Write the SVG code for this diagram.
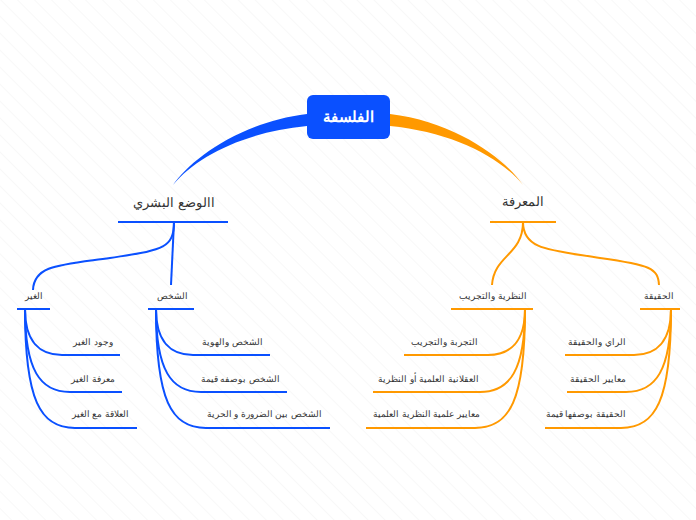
<svg xmlns="http://www.w3.org/2000/svg" width="696" height="520" viewBox="0 0 696 520">
<defs>
<pattern id="hatch" width="12" height="12" patternUnits="userSpaceOnUse" patternTransform="rotate(-45)">
<line x1="0" y1="0" x2="0" y2="12" stroke="#f1f1f1" stroke-width="1"/>
</pattern>
</defs>
<style>
text{font-family:"Liberation Sans","Noto Sans",sans-serif;fill:#333}
.b{stroke:#0a50ff;fill:none;stroke-width:2}
.o{stroke:#ff9900;fill:none;stroke-width:2}
.l1{font-size:13px}
.l2{font-size:9px}
.l3{font-size:9px}
</style>
<rect width="696" height="520" fill="#fff"/>
<rect width="696" height="520" fill="url(#hatch)"/>
<g id="connectors">
<path d="M307 114 C240 122 190 160 173 185 C197 156 245 132 307 126 Z" fill="#0a50ff"/>
<path d="M390 114 C457 122 506 160 523 185 C499 156 451 132 390 126 Z" fill="#ff9900"/>
<path class="b" d="M174 222 C174 250 160 250 110 258 C60 265 34 265 33 290"/>
<path class="b" d="M174 222 L171 285"/>
<path class="o" d="M523 222 C523 255 494 255 492 285"/>
<path class="o" d="M523 222 C523 250 550 250 600 258 C650 265 658 268 659 285"/>
<path class="b" d="M25 309 C25 342 40 355 62 355 L120 355"/>
<path class="b" d="M25 309 C25 370 40 392 70 392 L122 392"/>
<path class="b" d="M25 309 C25 400 40 428 75 428 L137 428"/>
<path class="b" d="M156 309 C156 342 171 355 193 355 L270 355"/>
<path class="b" d="M156 309 C156 370 171 392 201 392 L287 392"/>
<path class="b" d="M156 309 C156 400 171 428 206 428 L330 428"/>
<path class="o" d="M525 309 C525 342 510 355 488 355 L404 355"/>
<path class="o" d="M525 309 C525 370 510 392 480 392 L373 392"/>
<path class="o" d="M525 309 C525 400 510 428 475 428 L366 428"/>
<path class="o" d="M671 309 C671 342 656 355 634 355 L565 355"/>
<path class="o" d="M671 309 C671 370 656 392 626 392 L567 392"/>
<path class="o" d="M671 309 C671 400 656 428 621 428 L545 428"/>
</g>
<g id="root">
<rect x="307" y="95" width="83" height="44" rx="6" fill="#0a50ff"/>
<text x="348.5" y="122" text-anchor="middle" font-size="15" font-weight="bold" style="fill:#fff">الفلسفة</text>
</g>
<g id="n-human"><text class="l1" x="174" y="207" text-anchor="middle">االوضع البشري</text><line class="b" x1="118" y1="222" x2="228" y2="222"/></g>
<g id="n-knowledge"><text class="l1" x="523" y="206" text-anchor="middle">المعرفة</text><line class="o" x1="490" y1="222" x2="556" y2="222"/></g>
<g id="n-other"><text class="l2" x="34" y="299" text-anchor="middle">الغير</text><line class="b" x1="17" y1="309" x2="50" y2="309"/></g>
<g id="n-person"><text class="l2" x="172" y="299" text-anchor="middle">الشخص</text><line class="b" x1="148" y1="309" x2="194" y2="309"/></g>
<g id="n-theory"><text class="l2" x="493" y="299" text-anchor="middle">النظرية والتجريب</text><line class="o" x1="451" y1="309" x2="533" y2="309"/></g>
<g id="n-truth"><text class="l2" x="659" y="299" text-anchor="middle">الحقيقة</text><line class="o" x1="640" y1="309" x2="680" y2="309"/></g>
<g id="leaves">
<g id="l1"><text class="l3" x="113" y="345" text-anchor="end">وجود الغير</text></g>
<g id="l2"><text class="l3" x="115" y="382" text-anchor="end">معرفة الغير</text></g>
<g id="l3"><text class="l3" x="129" y="417" text-anchor="end">العلاقة مع الغير</text></g>
<g id="l4"><text class="l3" x="263" y="345" text-anchor="end">الشخص والهوية</text></g>
<g id="l5"><text class="l3" x="280" y="382" text-anchor="end">الشخص بوصفه قيمة</text></g>
<g id="l6"><text class="l3" x="322" y="417" text-anchor="end">الشخص بين الضرورة و الحرية</text></g>
<g id="l7"><text class="l3" x="478" y="345" text-anchor="end">التجربة والتجريب</text></g>
<g id="l8"><text class="l3" x="479" y="382" text-anchor="end">العقلانية العلمية أو النظرية</text></g>
<g id="l9"><text class="l3" x="480" y="417" text-anchor="end">معايير علمية النظرية العلمية</text></g>
<g id="l10"><text class="l3" x="626" y="345" text-anchor="end">الراي والحقيقة</text></g>
<g id="l11"><text class="l3" x="626" y="382" text-anchor="end">معايير الحقيقة</text></g>
<g id="l12"><text class="l3" x="626" y="417" text-anchor="end">الحقيقة بوصفها قيمة</text></g>
</g>
</svg>
